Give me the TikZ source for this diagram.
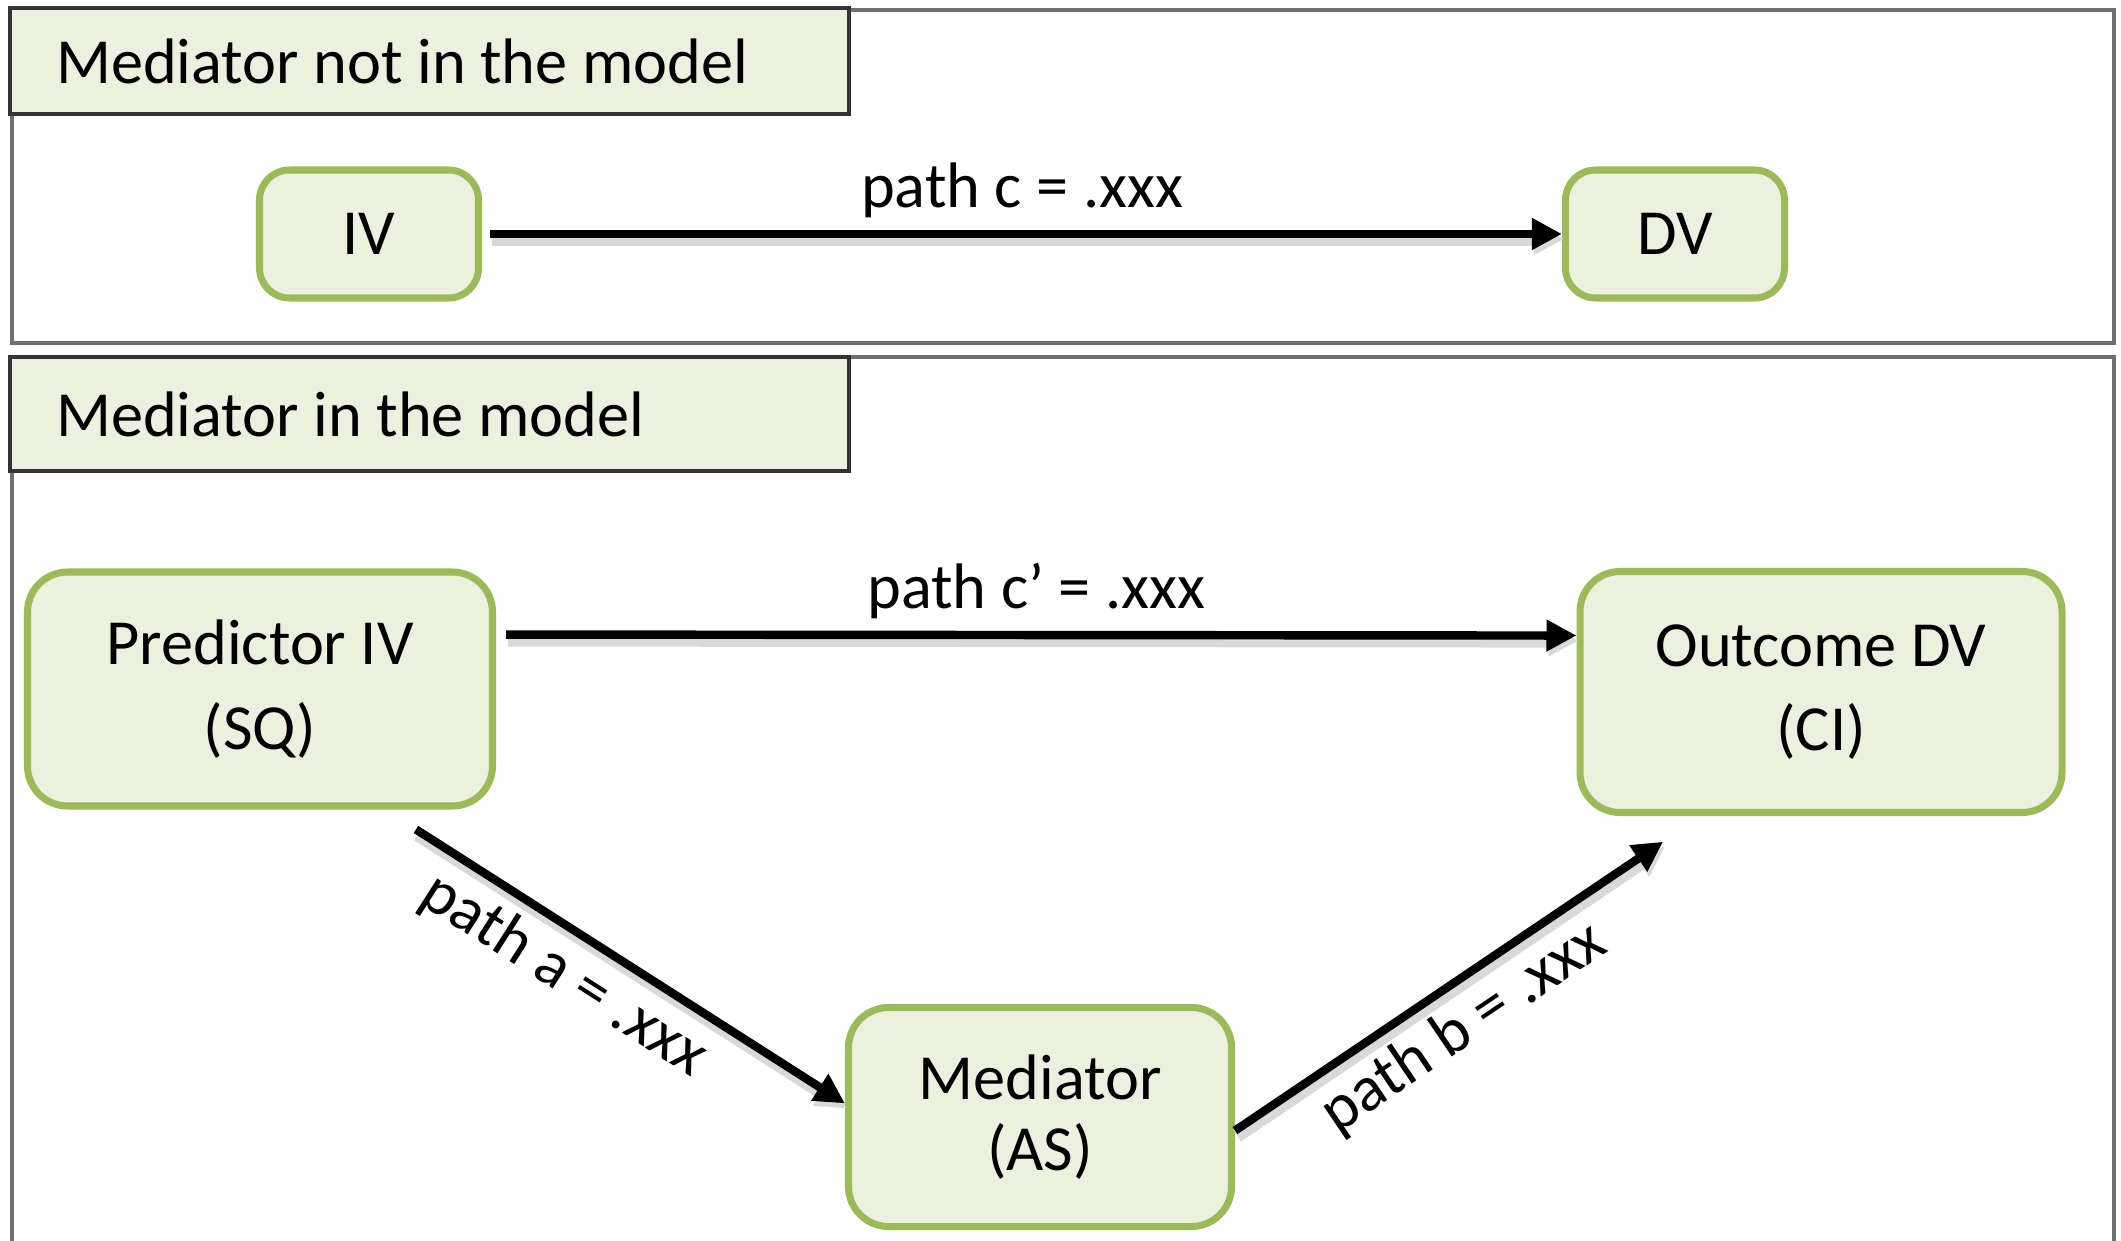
\documentclass[tikz,border=0pt]{standalone}
\usepackage{fontspec}
\setmainfont{Carlito}
\usetikzlibrary{arrows.meta}
\definecolor{boxgreen}{HTML}{9BBB59}
\definecolor{boxfill}{HTML}{EBF1DE}
\definecolor{framegray}{HTML}{707070}

\begin{document}
\begin{tikzpicture}[font = \fontsize{18.3}{24}\selectfont,
                    box/.style = {draw = boxgreen, fill = boxfill, line width = 2pt, rounded corners = 0.3cm, align = center},
                    title/.style = {draw = black!80, fill = boxfill, line width = 1.2pt, anchor = west, align = flush left,
                                    text width = 7.47cm, inner xsep = 0.46cm, minimum height = 1.06cm},
                    link/.style = {-{Triangle[length = 0.3cm, width = 0.3cm]}, line width = 2.4pt,
                                   preaction = {draw = black!15, line width = 4pt, transform canvas = {shift = {(0.02,-0.05)}}}}]

\useasboundingbox (0,0) rectangle (21.21,-12.41);

% frames
\draw[framegray, line width = 1.2pt] (0.12,-0.10) rectangle (21.14,-3.43);
\draw[framegray, line width = 1.2pt] (0.12,-12.6) -- (0.12,-3.57) -- (21.14,-3.57) -- (21.14,-12.6);

\node [title] (T1) at (0.08,-0.61) {Mediator not in the model};
\node [title, minimum height = 1.14cm] (T2) at (0.08,-4.14) {Mediator in the model};

% without mediator
\node [box, minimum width = 2.19cm, minimum height = 1.28cm] (IV) at (3.69,-2.34) {IV};
\node [box, minimum width = 2.19cm, minimum height = 1.28cm] (DV) at (16.75,-2.34) {DV};

% with mediator
\node [box, minimum width = 4.65cm, minimum height = 2.34cm, rounded corners = 0.4cm] (SQ) at (2.60,-6.89) {Predictor IV\\(SQ)};
\node [box, minimum width = 4.82cm, minimum height = 2.41cm, rounded corners = 0.4cm] (CI) at (18.21,-6.92) {Outcome DV\\(CI)};
\node [box, minimum width = 3.83cm, minimum height = 2.19cm, rounded corners = 0.4cm] (AS) at (10.40,-11.17) {Mediator\\[-3.6pt](AS)};

\draw[link, shorten <= 0.08cm] (IV) -- (DV) node[midway, above] {path c = .xxx};
\draw[link, shorten <= 0.1cm] (SQ.13) -- (CI.167) node[midway, above] {path c’ = .xxx};
\draw[link, shorten <= 0.37cm] (SQ.-44) -- (AS.176) node[pos = 0.44, sloped, below] {path a = .xxx};
\draw[link, shorten >= 0.46cm] (AS.-4) -- (CI.226) node[pos = 0.44, sloped, below] {path b = .xxx};

\end{tikzpicture}
\end{document}
